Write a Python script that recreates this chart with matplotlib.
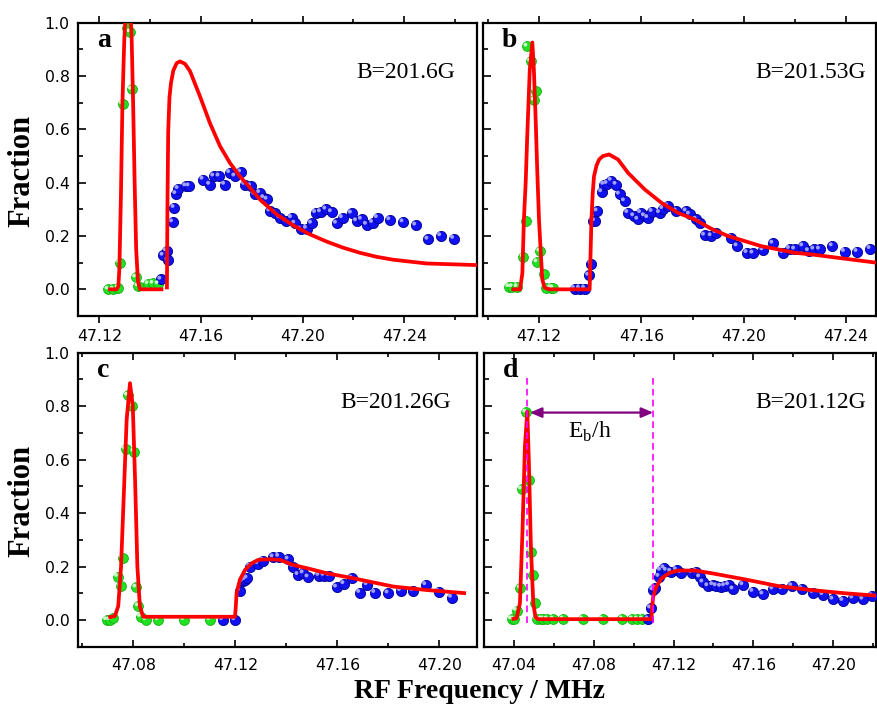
import numpy as np
import matplotlib.pyplot as plt
from matplotlib.ticker import MultipleLocator, FormatStrFormatter
from matplotlib.transforms import offset_copy

plt.rcParams['font.family'] = ['DejaVu Sans']
SERIF = ['Liberation Serif', 'DejaVu Serif']

# ---- panel a, B=201.6G ----
a_green_f = [47.1235, 47.1255, 47.1275, 47.1281, 47.1292, 47.1308, 47.1321, 47.1327,
             47.1344, 47.1353, 47.1393, 47.1412, 47.1432]
a_green_v = [0.0, 0.0, 0.005, 0.10, 0.695, 0.98, 0.965, 0.75, 0.045, 0.012, 0.02, 0.022, 0.02]
a_blue_f = [47.1443, 47.1452, 47.1465, 47.1471, 47.1489, 47.1495, 47.1502, 47.1511, 47.1541,
            47.1554, 47.1609, 47.1635, 47.1651, 47.1672, 47.1694, 47.1714, 47.1734, 47.1757,
            47.1773, 47.1796, 47.1813, 47.1832, 47.1848, 47.1861, 47.1872, 47.1891, 47.1911,
            47.1934, 47.1957, 47.1970, 47.1992, 47.2016, 47.2036, 47.2052, 47.2071, 47.2092,
            47.2114, 47.2134, 47.2157, 47.2193, 47.2213, 47.2232, 47.2252, 47.2276, 47.2295,
            47.2344, 47.2396, 47.2446, 47.2494, 47.2544, 47.2595]
a_blue_v = [0.037, 0.127, 0.144, 0.109, 0.252, 0.306, 0.358, 0.377, 0.387, 0.387, 0.412,
            0.393, 0.424, 0.424, 0.393, 0.437, 0.424, 0.439, 0.393, 0.387, 0.356, 0.362,
            0.343, 0.337, 0.293, 0.287, 0.268, 0.256, 0.268, 0.247, 0.225, 0.228, 0.247,
            0.287, 0.290, 0.300, 0.290, 0.247, 0.268, 0.285, 0.256, 0.262, 0.243, 0.250,
            0.268, 0.260, 0.252, 0.240, 0.187, 0.200, 0.190]
a_fit1_f = [47.1235, 47.1268, 47.1275, 47.1279, 47.1285, 47.1291, 47.1298, 47.1305, 47.1313,
            47.1321, 47.1327, 47.1333, 47.1339, 47.1345, 47.1352, 47.1360, 47.1452]
a_fit1_v = [0.0, 0.0, 0.012, 0.08, 0.35, 0.70, 0.93, 1.06, 1.10, 1.06, 0.95, 0.70, 0.40,
            0.15, 0.03, 0.0, 0.0]
a_fit2_f = [47.1466, 47.1468, 47.1471, 47.1476, 47.1482, 47.1491, 47.1504, 47.1517, 47.1537,
            47.1557, 47.1596, 47.1635, 47.1675, 47.1714, 47.1753, 47.1793, 47.1832, 47.1898,
            47.1963, 47.2029, 47.2095, 47.2160, 47.2226, 47.2291, 47.2357, 47.2488, 47.2686]
a_fit2_v = [0.0, 0.30, 0.59, 0.72, 0.774, 0.82, 0.848, 0.855, 0.846, 0.818, 0.724, 0.624,
            0.537, 0.474, 0.424, 0.381, 0.337, 0.281, 0.240, 0.206, 0.179, 0.156, 0.137,
            0.122, 0.111, 0.097, 0.091]

# ---- panel b, B=201.53G ----
b_green_f = [47.1083, 47.1096, 47.1115, 47.1139, 47.1148, 47.1154, 47.1168, 47.1180, 47.1187,
             47.1193, 47.1204, 47.1220, 47.1229, 47.1246, 47.1255]
b_green_v = [0.009, 0.009, 0.009, 0.122, 0.256, 0.911, 0.855, 0.709, 0.745, 0.102, 0.143,
             0.056, 0.005, 0.005, 0.005]
b_blue_f = [47.1339, 47.1359, 47.1379, 47.1395, 47.1405, 47.1411, 47.1418, 47.1428, 47.1446,
            47.1454, 47.1467, 47.1483, 47.1502, 47.1515, 47.1535, 47.1548, 47.1571, 47.1587,
            47.1598, 47.1613, 47.1626, 47.1643, 47.1672, 47.1685, 47.1704, 47.1737, 47.1776,
            47.1789, 47.1815, 47.1828, 47.1848, 47.1874, 47.1893, 47.1952, 47.1975, 47.2014,
            47.2037, 47.2076, 47.2115, 47.2154, 47.2180, 47.2200, 47.2232, 47.2254, 47.2275,
            47.2297, 47.2347, 47.2395, 47.2444, 47.2495]
b_blue_v = [0.003, 0.003, 0.003, 0.052, 0.096, 0.258, 0.256, 0.293, 0.365, 0.393, 0.396,
            0.408, 0.393, 0.356, 0.331, 0.287, 0.275, 0.262, 0.287, 0.275, 0.268, 0.291,
            0.287, 0.302, 0.312, 0.293, 0.293, 0.281, 0.262, 0.250, 0.202, 0.200, 0.212,
            0.194, 0.162, 0.137, 0.135, 0.147, 0.172, 0.137, 0.152, 0.150, 0.162, 0.144,
            0.150, 0.150, 0.162, 0.141, 0.141, 0.152]
b_fit_f = [47.1092, 47.1126, 47.1135, 47.1141, 47.1148, 47.1154, 47.1164, 47.1174, 47.1180,
           47.1187, 47.1193, 47.1200, 47.1207, 47.1213, 47.1222, 47.1242, 47.1398, 47.1402,
           47.1405, 47.1410, 47.1415, 47.1425, 47.1435, 47.1450, 47.1474, 47.1509, 47.1548,
           47.1613, 47.1678, 47.1743, 47.1809, 47.1874, 47.1939, 47.2004, 47.2069, 47.2134,
           47.2200, 47.2265, 47.2395, 47.2519]
b_fit_v = [0.0, 0.0, 0.06, 0.262, 0.40, 0.574, 0.824, 0.926, 0.824, 0.637, 0.45, 0.262,
           0.137, 0.037, 0.006, 0.0, 0.0, 0.15, 0.262, 0.36, 0.424, 0.465, 0.487, 0.500,
           0.506, 0.487, 0.437, 0.375, 0.325, 0.287, 0.262, 0.227, 0.200, 0.181, 0.162,
           0.150, 0.137, 0.131, 0.115, 0.100]

# ---- panel c, B=201.26G ----
c_green_f = [47.0696, 47.0709, 47.0722, 47.0739, 47.0752, 47.0758, 47.0770, 47.0778, 47.0794,
             47.0803, 47.0811, 47.0820, 47.0829, 47.0850, 47.0898, 47.0999, 47.1101]
c_green_v = [0.0, 0.0, 0.006, 0.162, 0.127, 0.233, 0.639, 0.840, 0.801, 0.630, 0.122, 0.052,
             0.012, 0.0, 0.0, 0.0, 0.0]
c_blue_f = [47.1151, 47.1199, 47.1218, 47.1229, 47.1238, 47.1247, 47.1258, 47.1290, 47.1310,
            47.1349, 47.1371, 47.1408, 47.1427, 47.1447, 47.1467, 47.1486, 47.1529, 47.1549,
            47.1569, 47.1598, 47.1627, 47.1658, 47.1689, 47.1718, 47.1748, 47.1800, 47.1849,
            47.1898, 47.1948, 47.1998, 47.2049]
c_blue_v = [0.0, 0.0, 0.109, 0.144, 0.150, 0.156, 0.200, 0.210, 0.222, 0.235, 0.237, 0.227,
            0.200, 0.169, 0.175, 0.160, 0.166, 0.166, 0.166, 0.122, 0.135, 0.156, 0.102,
            0.131, 0.102, 0.100, 0.109, 0.109, 0.131, 0.106, 0.084]
c_fit_f = [47.0702, 47.0728, 47.0741, 47.0752, 47.0764, 47.0774, 47.0787, 47.0798, 47.0807,
           47.0816, 47.0826, 47.0839, 47.1199, 47.1202, 47.1205, 47.1218, 47.1238, 47.1264,
           47.1290, 47.1336, 47.1375, 47.1427, 47.1493, 47.1558, 47.1663, 47.1820, 47.1951,
           47.2105]
c_fit_v = [0.009, 0.015, 0.052, 0.20, 0.50, 0.75, 0.886, 0.80, 0.524, 0.20, 0.050, 0.012,
           0.012, 0.05, 0.10, 0.15, 0.187, 0.212, 0.225, 0.227, 0.225, 0.206, 0.191, 0.175,
           0.156, 0.125, 0.112, 0.100]

# ---- panel d, B=201.12G ----
d_green_f = [47.0388, 47.0398, 47.0413, 47.0432, 47.0438, 47.0460, 47.0477, 47.0485, 47.0498,
             47.0505, 47.0515, 47.0538, 47.0548, 47.0568, 47.0597, 47.0647, 47.0744, 47.0844,
             47.0944, 47.0994, 47.1019, 47.1044]
d_green_v = [0.003, 0.003, 0.035, 0.119, 0.489, 0.777, 0.522, 0.256, 0.169, 0.062, 0.003,
             0.003, 0.003, 0.003, 0.003, 0.003, 0.003, 0.003, 0.003, 0.003, 0.003, 0.003]
d_blue_f = [47.1073, 47.1086, 47.1098, 47.1106, 47.1128, 47.1136, 47.1153, 47.1165, 47.1187,
            47.1215, 47.1237, 47.1293, 47.1315, 47.1332, 47.1348, 47.1373, 47.1398, 47.1415,
            47.1437, 47.1457, 47.1477, 47.1499, 47.1549, 47.1599, 47.1649, 47.1699, 47.1744,
            47.1794, 47.1844, 47.1900, 47.1950, 47.2000, 47.2050, 47.2100, 47.2150, 47.2195]
d_blue_v = [0.003, 0.044, 0.112, 0.119, 0.162, 0.185, 0.194, 0.185, 0.181, 0.187, 0.177,
            0.177, 0.181, 0.160, 0.141, 0.127, 0.131, 0.127, 0.125, 0.127, 0.131, 0.115,
            0.131, 0.106, 0.096, 0.115, 0.116, 0.127, 0.116, 0.102, 0.094, 0.077, 0.072,
            0.081, 0.077, 0.090]
d_fit_f = [47.0388, 47.0413, 47.0430, 47.0443, 47.0455, 47.0467, 47.0475, 47.0485, 47.0497,
           47.0508, 47.0522, 47.1089, 47.1093, 47.1098, 47.1114, 47.1140, 47.1182, 47.1223,
           47.1307, 47.1390, 47.1557, 47.1724, 47.1891, 47.2058, 47.2217]
d_fit_v = [0.003, 0.006, 0.062, 0.337, 0.649, 0.780, 0.587, 0.275, 0.062, 0.010, 0.003,
           0.003, 0.05, 0.087, 0.125, 0.156, 0.177, 0.185, 0.185, 0.175, 0.152, 0.127,
           0.112, 0.100, 0.091]
d_lines = [47.0465, 47.1098]   # dashed markers, E_b/h span
d_arrow_y = 0.776

fields = ['B=201.6G', 'B=201.53G', 'B=201.26G', 'B=201.12G']
letters = ['a', 'b', 'c', 'd']
xlims = [(47.1116, 47.2686), (47.0981, 47.2517), (47.0583, 47.2148), (47.0250, 47.2215)]
rects = [(0.0889, 0.5524, 0.4550, 0.4154), (0.5507, 0.5524, 0.4481, 0.4154),
         (0.0889, 0.0840, 0.4550, 0.4164), (0.5519, 0.0840, 0.4470, 0.4164)]
field_x = [0.945, 0.975, 0.935, 0.974]


def balls(ax, x, y, face, edge, light, size):
    ax.scatter(x, y, s=size, c=face, edgecolors=edge, linewidths=0.6, zorder=3)
    tr = offset_copy(ax.transData, fig=ax.figure, x=-1.3, y=1.3, units='points')
    ax.scatter(x, y, s=size * 0.15, c=light, edgecolors='none', zorder=4, transform=tr)


fig = plt.figure(figsize=(8.77, 7.06), dpi=100)
axes = []
for i in range(4):
    ax = fig.add_axes(rects[i])
    axes.append(ax)
    ax.set_xlim(*xlims[i])
    ax.set_ylim(-0.1, 1.0)
    ax.xaxis.set_major_locator(MultipleLocator(0.04))
    ax.xaxis.set_minor_locator(MultipleLocator(0.02))
    ax.xaxis.set_major_formatter(FormatStrFormatter('%.2f'))
    ax.yaxis.set_major_locator(MultipleLocator(0.2))
    ax.yaxis.set_minor_locator(MultipleLocator(0.1))
    ax.yaxis.set_major_formatter(FormatStrFormatter('%.1f'))
    for s in ax.spines.values():
        s.set_linewidth(1.6)
    xdir = 'out' if i < 2 else 'in'
    xpad = 4 if i < 2 else 8
    ax.tick_params(axis='x', which='major', direction=xdir, length=5, width=1.2,
                   labelsize=11.3, pad=xpad, top=True)
    ax.tick_params(axis='x', which='minor', direction=xdir, length=3, width=1.2, top=True)
    ax.tick_params(axis='y', which='major', direction='in', length=6, width=1.2,
                   labelsize=11.3, pad=6, labelleft=(i % 2 == 0))
    ax.tick_params(axis='y', which='minor', direction='in', length=3.5, width=1.2)
    ax.text(0.048, 0.94, letters[i], transform=ax.transAxes, family=SERIF,
            fontweight='bold', fontsize=20, va='center', ha='left')
    ax.text(field_x[i], 0.83, fields[i], transform=ax.transAxes, family=SERIF,
            fontsize=17, va='center', ha='right')

data = [(a_green_f, a_green_v, a_blue_f, a_blue_v, [(a_fit1_f, a_fit1_v), (a_fit2_f, a_fit2_v)]),
        (b_green_f, b_green_v, b_blue_f, b_blue_v, [(b_fit_f, b_fit_v)]),
        (c_green_f, c_green_v, c_blue_f, c_blue_v, [(c_fit_f, c_fit_v)]),
        (d_green_f, d_green_v, d_blue_f, d_blue_v, [(d_fit_f, d_fit_v)])]

for ax, (gf, gv, bf, bv, fits) in zip(axes, data):
    balls(ax, gf, gv, '#22e022', '#10b010', '#c8ffc8', 50)
    balls(ax, bf, bv, '#1010f0', '#000090', '#a0a0ff', 54)
    for ff, fv in fits:
        ax.plot(ff, fv, color='#ff0000', lw=2.7, zorder=5, solid_capstyle='butt')

# binding-energy marker in panel d
axd = axes[3]
for xv in d_lines:
    axd.plot([xv, xv], [-0.01, 0.92], color='#ff00ff', lw=1.2, ls=(0, (4, 2.5)), zorder=6)
axd.annotate('', xy=(d_lines[1], d_arrow_y), xytext=(d_lines[0] + 0.0015, d_arrow_y),
             arrowprops=dict(arrowstyle='<|-|>,head_length=0.7,head_width=0.3',
                             color='#800080', lw=1.6, shrinkA=0, shrinkB=0), zorder=7)
axd.text((d_lines[0] + d_lines[1]) / 2, 0.705, r'E$_\mathregular{b}$/h', family=SERIF,
         fontsize=17, ha='center', va='center')

fig.text(0.025, 0.758, 'Fraction', rotation=90, family=SERIF, fontweight='bold',
         fontsize=22, ha='center', va='center')
fig.text(0.025, 0.290, 'Fraction', rotation=90, family=SERIF, fontweight='bold',
         fontsize=22, ha='center', va='center')
fig.text(0.547, 0.011, 'RF Frequency / MHz', family=SERIF, fontweight='bold',
         fontsize=20, ha='center', va='baseline')

fig.savefig('out.png', dpi=100)
